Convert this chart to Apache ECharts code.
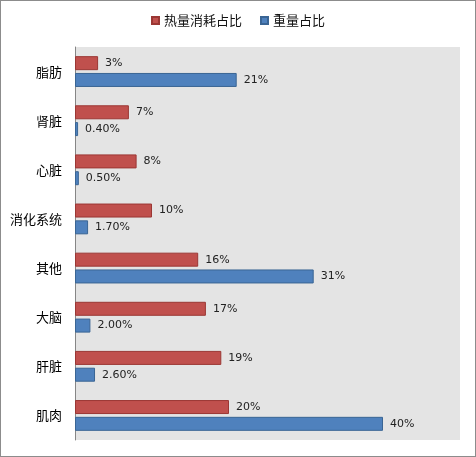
<!DOCTYPE html>
<html><head><meta charset="utf-8">
<script src="https://cdn.jsdelivr.net/npm/echarts@6/dist/echarts.min.js"></script>
<style>
html,body{margin:0;padding:0;background:#fff;}
#c{position:absolute;left:0;top:0;width:474px;height:455px;border:1px solid #8c8c8c;}
</style></head><body>
<div id="c"></div>
<script>
const categories = ['脂肪','肾脏','心脏','消化系统','其他','大脑','肝脏','肌肉'];
const heatValues = [3,7,8,10,16,17,19,20];
const heatLabels = ['3%','7%','8%','10%','16%','17%','19%','20%'];
const weightValues = [21,0.4,0.5,1.7,31,2,2.6,40];
const weightLabels = ['21%','0.40%','0.50%','1.70%','31%','2.00%','2.60%','40%'];
const seriesNames = ['热量消耗占比','重量占比'];

const chart = echarts.init(document.getElementById('c'), null, {renderer:'canvas'});
const labelStyle = (arr) => ({
  show:true, position:'right', distance:7,
  color:'#222', fontSize:11, fontFamily:'Verdana, "DejaVu Sans", sans-serif',
  formatter: p => arr[p.dataIndex]
});
chart.setOption({
  animation:false,
  legend:{
    top:8, left:'center', itemWidth:7, itemHeight:7, itemGap:18,
    icon:'rect',
    textStyle:{fontSize:13, color:'#111', fontFamily:'"Noto Sans CJK SC", sans-serif'},
    data:seriesNames
  },
  grid:{left:74, right:15, top:46, bottom:16, show:true, backgroundColor:'#e4e4e4', borderWidth:0},
  xAxis:{type:'value', min:0, max:50, show:false},
  yAxis:{
    type:'category', data:categories, inverse:true,
    axisLine:{show:true, lineStyle:{color:'#868686', width:1}},
    axisTick:{show:false},
    axisLabel:{fontSize:13, color:'#000', margin:13, fontFamily:'"Noto Sans CJK SC", sans-serif'}
  },
  series:[
    {name:seriesNames[0], type:'bar', data:heatValues, barWidth:14, barGap:'20%',
     itemStyle:{color:'#c0504d', borderColor:'#9b3734', borderWidth:1},
     label:labelStyle(heatLabels)},
    {name:seriesNames[1], type:'bar', data:weightValues, barWidth:14,
     itemStyle:{color:'#4f81bd', borderColor:'#3a6594', borderWidth:1},
     label:labelStyle(weightLabels)}
  ]
});
</script>
</body></html>
